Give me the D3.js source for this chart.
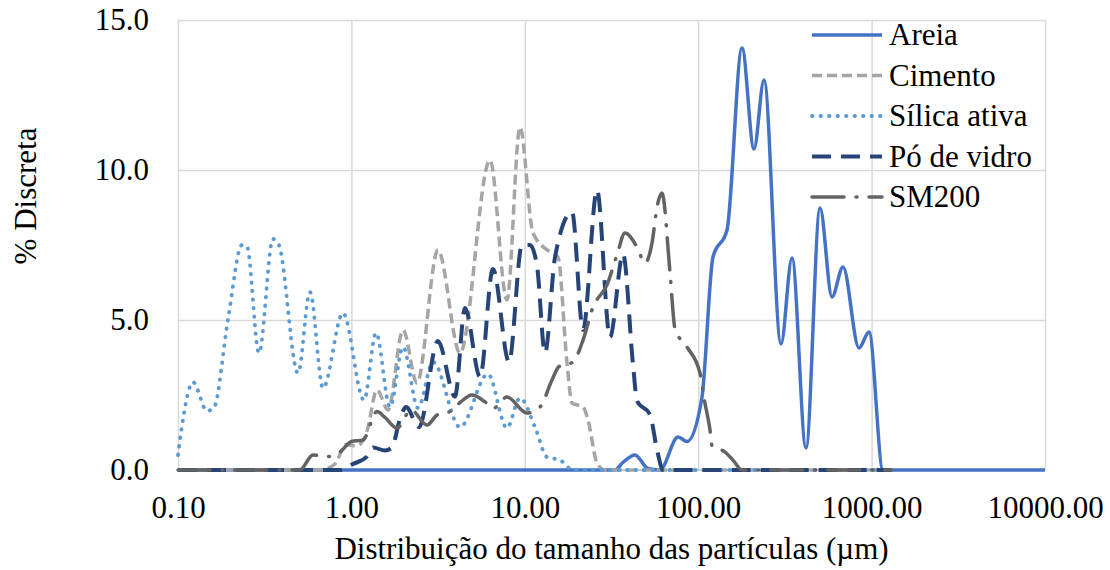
<!DOCTYPE html>
<meta charset="utf-8">
<title>Distribuição do tamanho das partículas</title>
<script src="https://d3js.org/d3.v7.min.js"></script>
<style>
  body { margin: 0; background: #fff; }
  svg text { font-family: "Liberation Serif", "Times New Roman", serif; }
</style>
<body>
  <svg class=chart></svg>
  <script>

  var width = 1110;
  var height = 570;
  var plot_left = 178;
  var plot_right = 1045;
  var plot_top = 20;
  var plot_bottom = 470;
  var font_size = 31;

  // axis ticks
  var xTicks = [0.1, 1, 10, 100, 1000, 10000];
  var yTicks = [0, 5, 10, 15];
  var xTitle = "Distribuição do tamanho das partículas (µm)";
  var yTitle = "% Discreta";

  var seriesNames = ["Areia", "Cimento", "Sílica ativa", "Pó de vidro", "SM200"];

  // values: particle size (µm) and % discreta
  var areiaSize = [0.1, 33, 36.8, 43.2, 51.3, 60.2, 76.5, 86.2, 105, 121.7, 146.6, 178.9, 209.8, 239.6, 300.3, 347.5, 418.5, 504, 591, 684, 846, 966, 1163, 10000];
  var areiaPct  = [0, 0, 0.25, 0.5, 0.05, 0, 1.1, 0.95, 2.4, 7.1, 8.0, 14.07, 10.7, 13.0, 4.2, 7.07, 0.73, 8.73, 5.77, 6.77, 4.07, 4.6, 0, 0];

  var cimentoSize = [0.1, 0.659, 0.804, 0.93, 1.077, 1.23, 1.405, 1.626, 1.985, 2.389, 3.157, 4.23, 6.30, 7.89, 9.38, 11.15, 13.98, 15.54, 17.51, 18.72, 21.66, 23.15, 26.09, 29.0, 1300];
  var cimentoPct  = [0, 0, 0.2, 0.85, 0.8, 1.3, 2.67, 2.0, 4.67, 2.9, 7.33, 3.9, 10.33, 5.67, 11.43, 7.9, 7.27, 7.1, 3.57, 2.23, 2.1, 1.67, 0.23, 0, 0];

  var silicaSize = [0.1, 0.105, 0.122, 0.147, 0.161, 0.194, 0.234, 0.250, 0.293, 0.353, 0.382, 0.492, 0.577, 0.686, 0.894, 1.182, 1.387, 1.67, 1.985, 2.422, 2.955, 4.23, 6.13, 7.89, 9.38, 11.45, 13.43, 15.96, 18.97, 1300];
  var silicaPct  = [0.5, 1.4, 2.93, 1.97, 2.07, 5.0, 7.5, 7.45, 3.9, 7.7, 7.5, 3.23, 5.93, 2.73, 5.23, 2.33, 4.57, 2.1, 4.1, 2.07, 3.6, 1.43, 3.2, 1.4, 2.4, 1.43, 0.43, 0.33, 0, 0];

  var poSize = [0.1, 0.86, 1.021, 1.23, 1.333, 1.563, 1.714, 1.906, 2.065, 2.454, 3.157, 3.957, 4.52, 5.52, 6.55, 8.11, 9.63, 10.72, 11.76, 13.08, 14.94, 18.72, 21.66, 26.09, 31.0, 36.85, 42.1, 44.4, 52.7, 57.9, 62.7, 1300];
  var poPct  = [0, 0, 0.2, 0.45, 0.75, 0.65, 0.75, 1.7, 2.1, 1.43, 4.3, 2.45, 5.4, 3.1, 6.7, 3.6, 7.5, 7.5, 6.8, 3.9, 7.1, 8.6, 4.67, 9.33, 4.43, 7.2, 3.5, 2.3, 1.85, 0.67, 0, 0];

  var sm200Size = [0.1, 0.505, 0.6, 0.733, 0.86, 1.0, 1.166, 1.405, 1.563, 1.832, 2.207, 2.729, 3.116, 3.704, 4.23, 4.96, 5.9, 6.55, 7.89, 10.3, 12.24, 14.35, 15.75, 18.97, 21.66, 24.74, 29.78, 34.02, 37.84, 44.4, 49.35, 54.16, 57.9, 61.8, 68.8, 73.5, 86.2, 102.4, 109.4, 117, 120.1, 142.7, 158.8, 178.9, 1300];
  var sm200Pct  = [0, 0, 0.5, 0.45, 0.6, 0.95, 1.0, 1.95, 1.75, 1.4, 2.0, 1.5, 1.83, 1.95, 2.25, 2.5, 2.27, 2.05, 2.43, 1.9, 2.1, 3.0, 3.45, 3.6, 4.33, 5.43, 6.17, 7.17, 7.9, 7.43, 6.9, 7.57, 8.77, 9.23, 6.57, 4.7, 4.1, 3.23, 2.23, 1.33, 0.8, 0.6, 0.33, 0, 0];

  var seriesSizes = [areiaSize, cimentoSize, silicaSize, poSize, sm200Size];
  var seriesPcts = [areiaPct, cimentoPct, silicaPct, poPct, sm200Pct];

  // line styles (Excel-like)
  var seriesColors = ["#4472C4", "#A5A5A5", "#5B9BD5", "#264478", "#636363"];
  var seriesWidths = [3.5, 3.5, 3.8, 4, 3.5];
  var seriesDashes = [null, "10 5", "0.5 8", "19 10", "32 12 1 12"];
  var seriesCaps = ["butt", "butt", "round", "butt", "round"];

  var svg = d3.select(".chart")
    .attr("width", width)
    .attr("height", height);

  var x = d3.scaleLog()
    .domain([0.1, 10000])
    .range([plot_left, plot_right]);
  var y = d3.scaleLinear()
    .domain([0, 15])
    .range([plot_bottom, plot_top]);

  // gridlines
  svg.append("g")
    .attr("transform", "translate(0," + plot_bottom + ")")
    .call(d3.axisBottom(x).tickValues(xTicks).tickSize(-(plot_bottom - plot_top)).tickFormat(""))
    .call(function(g) { g.select(".domain").remove(); })
    .selectAll("line")
      .attr("stroke", "#D9D9D9")
      .attr("stroke-width", 1.5);

  svg.append("g")
    .attr("transform", "translate(" + plot_left + ",0)")
    .call(d3.axisLeft(y).tickValues(yTicks).tickSize(-(plot_right - plot_left)).tickFormat(""))
    .call(function(g) { g.select(".domain").remove(); })
    .selectAll("line")
      .attr("stroke", "#D9D9D9")
      .attr("stroke-width", 1.5);

  svg.append("line")
    .attr("x1", plot_left).attr("x2", plot_right)
    .attr("y1", plot_bottom).attr("y2", plot_bottom)
    .attr("stroke", "#BFBFBF")
    .attr("stroke-width", 1.5);

  // tick labels
  var x_axis = svg.append("g")
    .attr("transform", "translate(0," + plot_bottom + ")")
    .call(d3.axisBottom(x).tickValues(xTicks).tickSize(0).tickPadding(26).tickFormat(d3.format(".2f")));
  x_axis.select(".domain").remove();

  var y_axis = svg.append("g")
    .attr("transform", "translate(" + plot_left + ",0)")
    .call(d3.axisLeft(y).tickValues(yTicks).tickSize(0).tickPadding(29).tickFormat(d3.format(".1f")));
  y_axis.select(".domain").remove();

  svg.selectAll(".tick text")
    .attr("font-size", font_size)
    .attr("font-family", "Liberation Serif, serif")
    .attr("fill", "#000");

  // axis titles
  svg.append("text")
    .attr("x", (plot_left + plot_right) / 2)
    .attr("y", 559)
    .attr("text-anchor", "middle")
    .attr("font-size", font_size)
    .text(xTitle);

  svg.append("text")
    .attr("transform", "translate(36,196) rotate(-90)")
    .attr("text-anchor", "middle")
    .attr("font-size", font_size)
    .text(yTitle);

  // lines
  var line = d3.line()
    .x(function(d) { return x(d[0]); })
    .y(function(d) { return y(d[1]); })
    .curve(d3.curveMonotoneX);

  seriesNames.forEach(function(name, i) {
    var points = seriesSizes[i].map(function(s, j) { return [s, seriesPcts[i][j]]; });
    svg.append("path")
      .datum(points)
      .attr("class", "series")
      .attr("d", line)
      .attr("fill", "none")
      .attr("stroke", seriesColors[i])
      .attr("stroke-width", seriesWidths[i])
      .attr("stroke-dasharray", seriesDashes[i])
      .attr("stroke-linecap", seriesCaps[i])
      .attr("stroke-linejoin", "round");
  });

  // legend
  var legend = svg.append("g")
    .selectAll("g")
    .data(seriesNames)
    .enter().append("g")
      .attr("transform", function(d, i) { return "translate(812," + (35 + i * 40.5) + ")"; });

  legend.append("line")
    .attr("x1", 0).attr("x2", 70)
    .attr("stroke", function(d, i) { return seriesColors[i]; })
    .attr("stroke-width", function(d, i) { return seriesWidths[i]; })
    .attr("stroke-dasharray", function(d, i) { return seriesDashes[i]; })
    .attr("stroke-linecap", function(d, i) { return seriesCaps[i]; });

  legend.append("text")
    .attr("x", 77)
    .attr("y", 10)
    .attr("font-size", font_size)
    .text(function(d) { return d; });

  </script>
</body>
